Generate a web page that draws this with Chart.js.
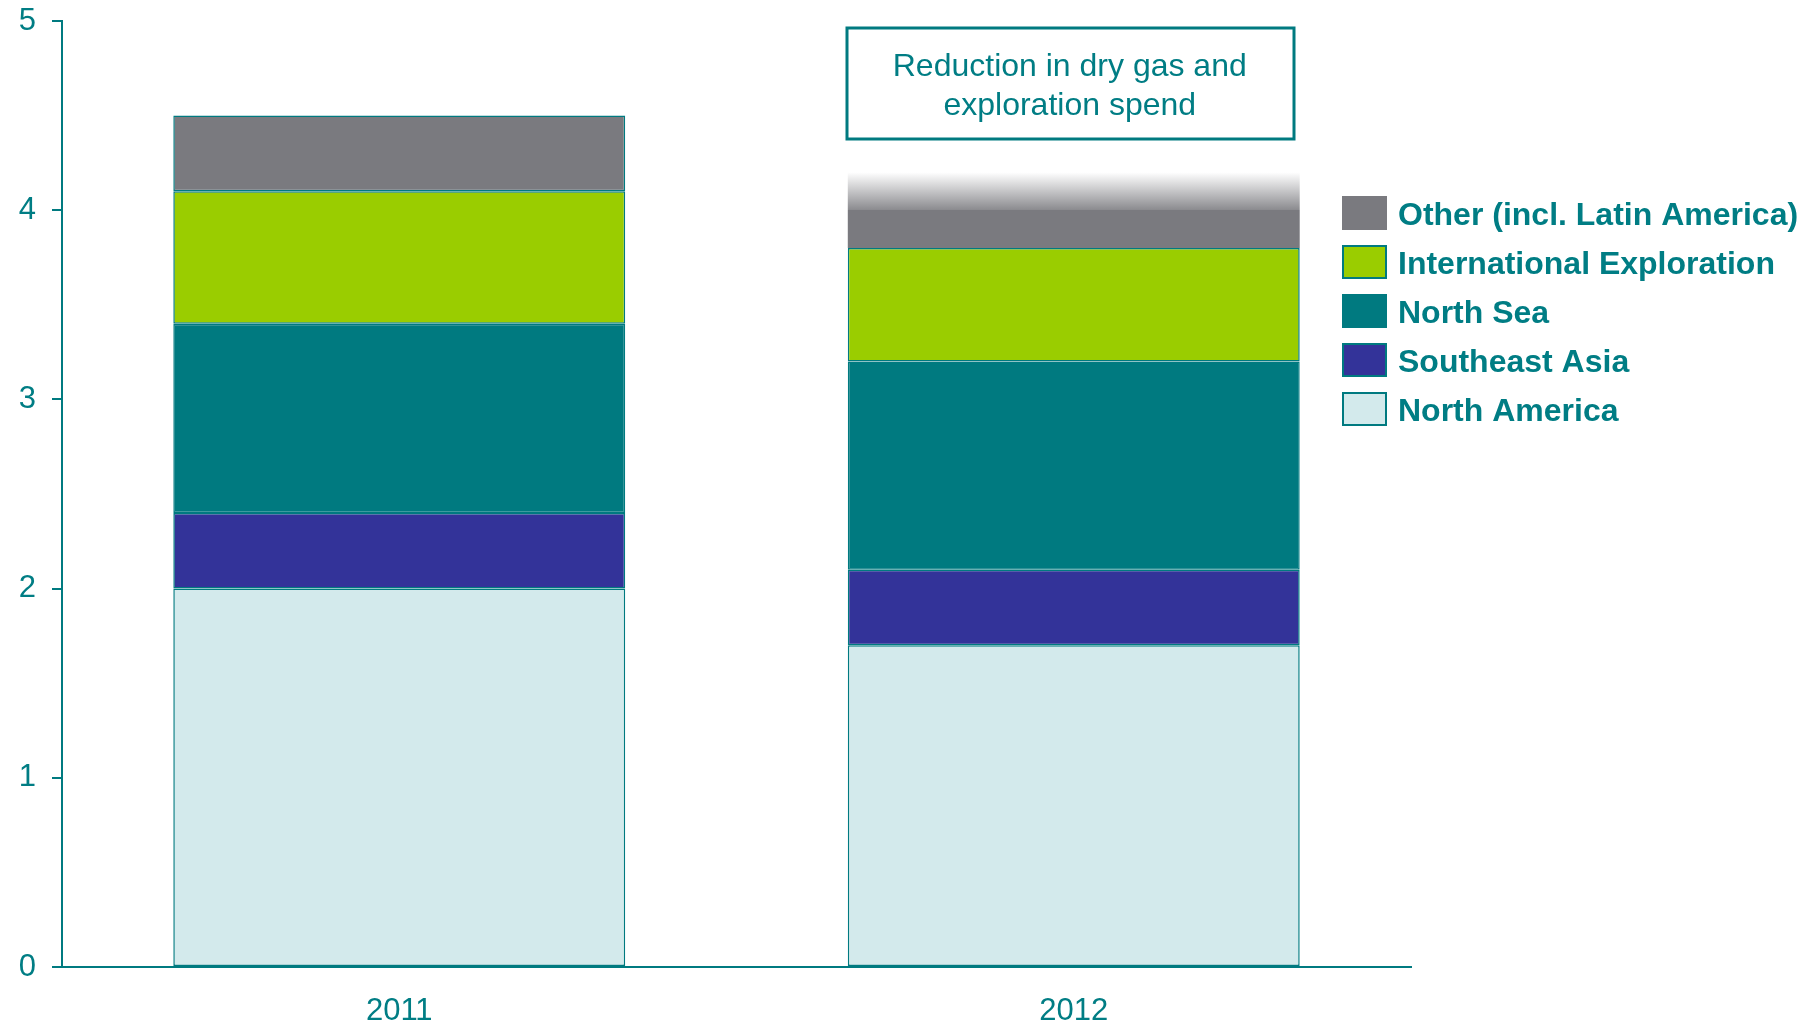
<!DOCTYPE html>
<html>
<head>
<meta charset="utf-8">
<title>Capital spend by region</title>
<script src="https://cdn.jsdelivr.net/npm/chart.js@4.4.1/dist/chart.umd.min.js"></script>
<style>
  html, body { margin: 0; padding: 0; background: #ffffff; }
  #wrap { width: 1805px; height: 1025px; position: relative; }
</style>
</head>
<body>
<div id="wrap"><canvas id="spendChart" width="1805" height="1025"></canvas></div>
<script>
// Spend per region, stacked bottom to top
const years = ['2011', '2012'];
const northAmerica = [2.0, 1.7];
const southeastAsia = [0.4, 0.4];
const northSea = [1.0, 1.1];
const intlExploration = [0.7, 0.6];
const other = [0.4, 0.4];
const yTicks = [0, 1, 2, 3, 4, 5];
const noteLines = ['Reduction in dry gas and', 'exploration spend'];

const TEAL = '#007a80';
const TEXT = '#007d84';
const GREY = '#7a7a7f';
const FONT = '"Liberation Sans", Arial, sans-serif';

// 2012 "Other" fades out towards its top
function otherFill(ctx) {
    if (ctx.dataIndex !== 1) return GREY;
    const chart = ctx.chart;
    if (!chart.chartArea) return GREY;
    const y = chart.scales.y;
    const base = northAmerica[1] + southeastAsia[1] + northSea[1] + intlExploration[1];
    const top = base + other[1];
    const yTop = y.getPixelForValue(top);
    const yBot = y.getPixelForValue(base);
    const g = chart.ctx.createLinearGradient(0, yTop, 0, yBot);
    g.addColorStop(0, 'rgba(255,255,255,1)');
    g.addColorStop(0.5, '#8a8a8e');
    g.addColorStop(0.5, GREY);
    g.addColorStop(1, GREY);
    return g;
}

const seriesDefs = [
    { label: 'North America', data: northAmerica, backgroundColor: '#d3eaec', borderWidth: 1.5 },
    { label: 'Southeast Asia', data: southeastAsia, backgroundColor: '#333399', borderWidth: 1.5 },
    { label: 'North Sea', data: northSea, backgroundColor: '#007a80', borderWidth: 1.5 },
    { label: 'International Exploration', data: intlExploration, backgroundColor: '#9acd00', borderWidth: 1.5 },
    { label: 'Other (incl. Latin America)', data: other, backgroundColor: otherFill, legendColor: GREY, borderWidth: [1.5, 0] }
];

const datasets = seriesDefs.map(s => ({
    label: s.label,
    data: s.data,
    backgroundColor: s.backgroundColor,
    legendColor: s.legendColor || s.backgroundColor,
    borderColor: TEAL,
    borderWidth: s.borderWidth,
    borderSkipped: false,
    barPercentage: 0.67,
    categoryPercentage: 1.0
}));

// legend on the right, top entry first
const sideLegend = {
    id: 'sideLegend',
    afterDraw(chart) {
        const c = chart.ctx;
        const items = chart.data.datasets.slice().reverse();
        c.save();
        c.font = 'bold 32px ' + FONT;
        c.textBaseline = 'middle';
        items.forEach((ds, i) => {
            const y = 213 + i * 49;
            c.fillStyle = ds.legendColor;
            c.fillRect(1342, y - 17, 45, 34);
            if (i > 0) {
                c.strokeStyle = TEAL;
                c.lineWidth = 2;
                c.strokeRect(1343, y - 16, 43, 32);
            }
            c.fillStyle = TEXT;
            c.fillText(ds.label, 1398, y + 3);
        });
        c.restore();
    }
};

// boxed note above the 2012 bar
const noteBox = {
    id: 'noteBox',
    afterDraw(chart) {
        const c = chart.ctx;
        const cx = chart.scales.x.getPixelForValue(1);
        c.save();
        c.strokeStyle = TEAL;
        c.lineWidth = 3;
        c.strokeRect(847, 28, 447, 111);
        c.font = '32px ' + FONT;
        c.fillStyle = TEXT;
        c.textAlign = 'center';
        c.textBaseline = 'middle';
        noteLines.forEach((t, i) => c.fillText(t, cx - 4, 67 + i * 39));
        c.restore();
    }
};

new Chart(document.getElementById('spendChart').getContext('2d'), {
    type: 'bar',
    data: { labels: years, datasets: datasets },
    options: {
        responsive: false,
        animation: false,
        layout: { padding: { top: 21, right: 394, left: 0, bottom: 0 } },
        plugins: {
            legend: { display: false },
            tooltip: { enabled: false }
        },
        scales: {
            x: {
                stacked: true,
                grid: { display: false },
                border: { color: TEAL, width: 2 },
                ticks: {
                    color: TEXT,
                    padding: 18,
                    font: { family: FONT, size: 31 }
                },
                afterFit(scale) { scale.height = 58; }
            },
            y: {
                stacked: true,
                min: 0,
                max: 5,
                afterBuildTicks(scale) { scale.ticks = yTicks.map(v => ({ value: v })); },
                grid: { drawOnChartArea: false, drawTicks: true, tickLength: 10, color: TEAL, lineWidth: 2 },
                border: { color: TEAL, width: 2 },
                ticks: {
                    color: TEXT,
                    padding: 16,
                    font: { family: FONT, size: 31 }
                },
                afterFit(scale) {
                    scale.width = 62;
                    scale.paddingTop = 0;
                    scale.paddingBottom = 0;
                }
            }
        }
    },
    plugins: [sideLegend, noteBox]
});
</script>
</body>
</html>
